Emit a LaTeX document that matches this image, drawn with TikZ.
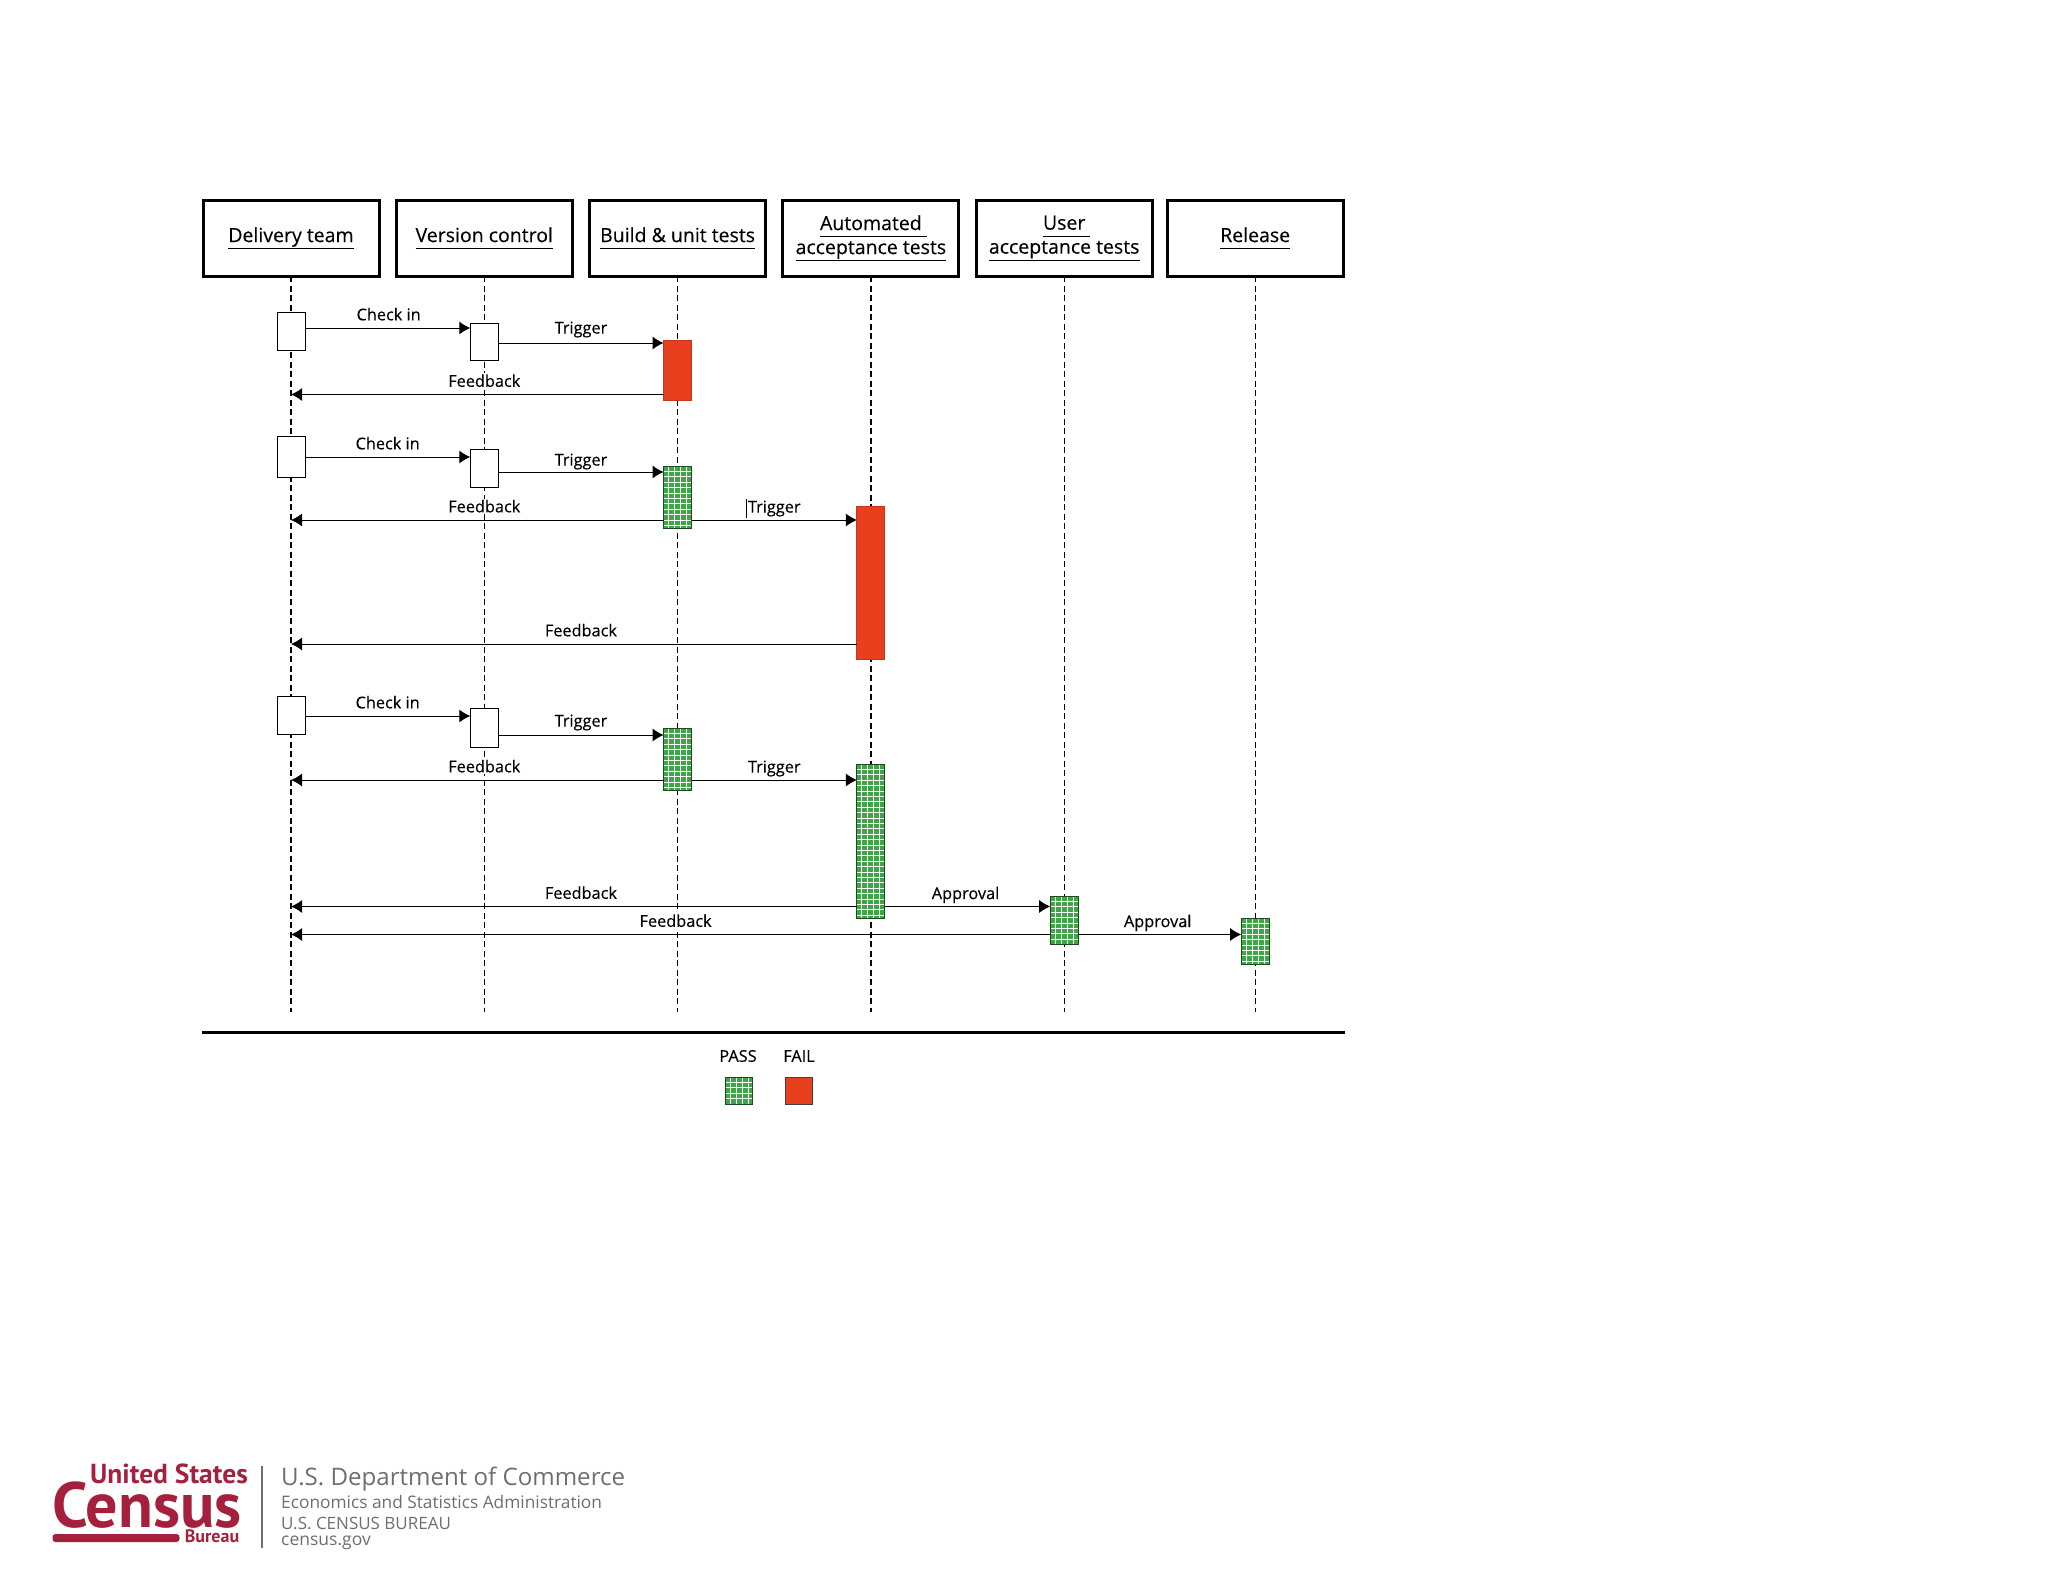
\documentclass[tikz,border=0pt]{standalone}
\usepackage{fontspec}
\setmainfont{Open Sans}
\newfontfamily\logofont{PT Sans}
\newfontfamily\labfont[FakeBold=0.25]{Open Sans}
\usetikzlibrary{arrows.meta,positioning}
\definecolor{failred}{HTML}{E8401F}
\definecolor{passgreen}{HTML}{3FA648}
\definecolor{censusred}{HTML}{A5203C}
\definecolor{commercegray}{HTML}{6B6E72}
\newcommand{\hd}[1]{\raisebox{-1.5pt}{\underline{\vphantom{Ag}#1}}}
\newcommand{\hdgap}{\rlap{\raisebox{-1.5pt}{\underline{\vphantom{Ag}\ }}}}
\tikzset{
  headbox/.style={draw,line width=3pt,minimum width=176pt,minimum height=76pt,
    align=center,inner sep=0pt,outer sep=0pt,font=\labfont\fontsize{19.5}{24}\selectfont},
  life/.style={line width=1.3pt,dash pattern=on 6pt off 3.5pt},
  act/.style={draw,fill=white,line width=.9pt,minimum width=28pt,inner sep=0pt,outer sep=0pt},
  fail/.style={act,fill=failred,draw=failred!85!black},
  pass/.style={act,fill=passgreen,draw=passgreen!45!black,path picture={
    \foreach \i in {1,...,40}
      \draw[white,line width=.95pt]
        ([yshift=-\i*5.4pt]path picture bounding box.north west) --
        ([yshift=-\i*5.4pt]path picture bounding box.north east);
    \foreach \i in {5,11,17,23}
      \draw[white,line width=.95pt]
        ([xshift=\i pt]path picture bounding box.north west) --
        ([xshift=\i pt]path picture bounding box.south west);}},
  ar/.style={-{Latex[length=11pt,width=13pt]},line width=1pt},
  lab/.style={font=\labfont\fontsize{16.3}{19}\selectfont,inner sep=1pt,fill=white},
  logo/.style={inner sep=0pt,anchor=west,text=commercegray}}
\begin{document}
\begin{tikzpicture}[x=1pt,y=-1pt]
\useasboundingbox (0,0) rectangle (2048,1582);
\coordinate (end) at (0,1012);

% headers
\node[headbox] (D) at (291,238) {\hd{Delivery team}};
\node[headbox,right=17.3pt of D] (V) {\hd{Version control}};
\node[headbox,right=17.3pt of V] (B) {\hd{Build \& unit tests}};
\node[headbox,right=17.3pt of B] (A) {\hd{Automated}\hdgap\\\hd{acceptance tests}};
\node[headbox,right=17.3pt of A] (U) {\hd{User}\hdgap\\\hd{acceptance tests}};
\node[headbox,right=15pt of U] (R) {\hd{Release}};

\foreach \n in {D,V,B,A,U,R}
  \draw[life] (\n.south) -- (\n.south |- end);

% first run
\node[act,minimum height=38pt] (d1) at (D |- 0,331) {};
\node[act,minimum height=37pt] (v1) at (V |- 0,342) {};
\node[fail,minimum height=60pt] (b1) at (B |- 0,370) {};
\draw[ar] (d1.east |- 0,328) -- node[lab,above=6pt,xshift=1pt]{Check in} (v1.west |- 0,328);
\draw[ar] (v1.east |- 0,343) -- node[lab,above=4pt]{Trigger} (b1.west |- 0,343);
\draw[ar] (b1.west |- 0,394.5) -- node[lab,above=6pt,xshift=7pt]{Feedback} (D |- 0,394.5);

% second run
\node[act,minimum height=41pt] (d2) at (D |- 0,456.5) {};
\node[act,minimum height=38pt] (v2) at (V |- 0,468) {};
\node[pass,minimum height=62pt] (b2) at (B |- 0,497) {};
\node[fail,minimum height=153pt] (a2) at (A |- 0,583) {};
\draw[ar] (d2.east |- 0,457) -- node[lab,above=6pt]{Check in} (v2.west |- 0,457);
\draw[ar] (v2.east |- 0,472) -- node[lab,above=1pt]{Trigger} (b2.west |- 0,472);
\draw[ar] (b2.west |- 0,520) -- node[lab,above=6pt,xshift=7pt]{Feedback} (D |- 0,520);
\draw[ar] (b2.east |- 0,520) -- node[lab,above=2pt] (t2) {Trigger} (a2.west |- 0,520);
\draw[line width=.7pt] (t2.north west) -- (t2.south west);
\draw[ar] (a2.west |- 0,644) -- node[lab,above=6pt,xshift=7pt]{Feedback} (D |- 0,644);

% third run
\node[act,minimum height=38pt] (d3) at (D |- 0,715) {};
\node[act,minimum height=39pt] (v3) at (V |- 0,727.5) {};
\node[pass,minimum height=62pt] (b3) at (B |- 0,759) {};
\node[pass,minimum height=154pt] (a3) at (A |- 0,841) {};
\node[pass,minimum height=48pt] (u3) at (U |- 0,920) {};
\node[pass,minimum height=46pt] (r3) at (R |- 0,941) {};
\draw[ar] (d3.east |- 0,716) -- node[lab,above=6pt]{Check in} (v3.west |- 0,716);
\draw[ar] (v3.east |- 0,735) -- node[lab,above=3pt]{Trigger} (b3.west |- 0,735);
\draw[ar] (b3.west |- 0,780) -- node[lab,above=6pt,xshift=7pt]{Feedback} (D |- 0,780);
\draw[ar] (b3.east |- 0,780) -- node[lab,above=2pt]{Trigger} (a3.west |- 0,780);
\draw[ar] (a3.west |- 0,906.5) -- node[lab,above=6pt,xshift=7pt]{Feedback} (D |- 0,906.5);
\draw[ar] (a3.east |- 0,906.5) -- node[lab,above=2pt,xshift=-2pt]{Approval} (u3.west |- 0,906.5);
\draw[ar] (u3.west |- 0,934.5) -- node[lab,above=6pt,xshift=5pt]{Feedback} (D |- 0,934.5);
\draw[ar] (u3.east |- 0,934.5) -- node[lab,above=2pt,xshift=-2pt]{Approval} (r3.west |- 0,934.5);

% legend
\coordinate (ruleL) at (202,1032);
\coordinate (ruleR) at (1345,1032);
\draw[line width=3pt] (ruleL) -- (ruleR);
\node[lab] (passlab) at (738,1056) {PASS};
\node[lab] (faillab) at (799,1056) {FAIL};
\node[pass,minimum width=27pt,minimum height=27pt] (passkey) at (738.5,1090.5) {};
\node[fail,draw=black!75,minimum width=27pt,minimum height=27pt] (failkey) at (798.5,1090.5) {};

% logo
\node[logo,text=censusred,anchor=center,font=\logofont\bfseries\fontsize{27.5}{27.5}\selectfont] (states) at (169,1474) {United States};
\node[logo,text=censusred,anchor=center,font=\logofont\bfseries\fontsize{64}{64}\selectfont] (census) at (147,1505) {Census};
\node[fill=censusred,rounded corners=3pt,minimum width=127pt,minimum height=8pt,inner sep=0pt] (bar) at (116,1538) {};
\node[logo,text=censusred,anchor=center,font=\logofont\bfseries\fontsize{18}{18}\selectfont] (bureau) at (212,1536) {Bureau};
\coordinate (sepT) at (262,1466);
\coordinate (sepB) at (262,1548);
\draw[commercegray,line width=1.2pt] (sepT) -- (sepB);
\node[logo,font=\fontsize{24.1}{25}\selectfont] (doc) at (281,1479) {U.S. Department of Commerce};
\node[logo,font=\fontsize{17.3}{18}\selectfont] (esa) at (281,1502) {Economics and Statistics Administration};
\node[logo,font=\fontsize{17}{18}\selectfont] (bur) at (281,1523) {U.S. CENSUS BUREAU};
\node[logo,font=\fontsize{17.5}{18}\selectfont] (gov) at (281,1543) {census.gov};
\end{tikzpicture}
\end{document}
